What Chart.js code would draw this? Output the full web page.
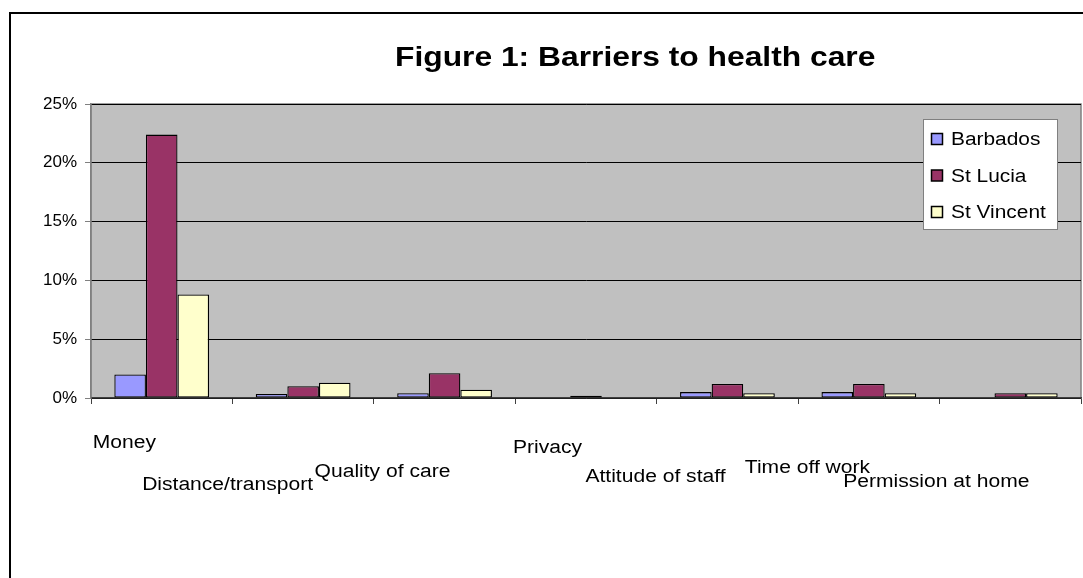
<!DOCTYPE html>
<html>
<head>
<meta charset="utf-8">
<script src="https://cdn.jsdelivr.net/npm/chart.js@4/dist/chart.umd.min.js"></script>
<style>
  html, body { margin: 0; padding: 0; background: #fff; }
  #wrap { width: 1083px; height: 578px; }
</style>
</head>
<body>
<div id="wrap"><canvas id="myBarChart"></canvas></div>
<script>
const categories = ["Money", "Distance/transport", "Quality of care", "Privacy", "Attitude of staff", "Time off work", "Permission at home"];
const seriesNames = ["Barbados", "St Lucia", "St Vincent"];
const barbados = [2.0, 0.35, 0.4, 0, 0.5, 0.5, 0];
const stLucia = [22.4, 1.0, 2.1, 0.2, 1.2, 1.2, 0.4];
const stVincent = [8.8, 1.3, 0.7, 0, 0.4, 0.4, 0.4];
const yTicks = [0, 5, 10, 15, 20, 25];

const colors = ["#9999FF", "#993366", "#FFFFCC"];
// Excel left the category labels scattered: left edge / baseline offsets from each category centre
const labelDx = [-69, -161, -130, -73, -142, -124, -167];
const labelDy = [50, 92, 79, 55, 84, 75, 89];

const FONT = "Arial, 'Liberation Sans', sans-serif";
const STRETCH = 1.17; // text in the original is drawn a bit wide

function wideText(c, txt, x, y, sx) {
    c.save();
    c.translate(x, y);
    c.scale(sx, 1);
    c.fillText(txt, 0, 0);
    c.restore();
}

const excelLook = {
    id: 'excelLook',
    beforeDraw(chart) {
        const c = chart.ctx;
        const a = chart.chartArea;
        c.save();
        c.fillStyle = "#fff";
        c.fillRect(0, 0, chart.width, chart.height);
        // outer frame
        c.strokeStyle = "#000";
        c.lineWidth = 2;
        c.strokeRect(10, 13, chart.width + 20, chart.height + 20);
        // plot area
        c.fillStyle = "#C0C0C0";
        c.fillRect(a.left, a.top, a.right - a.left, a.bottom - a.top);
        c.strokeStyle = "#808080";
        c.lineWidth = 1.5;
        c.strokeRect(a.left, a.top, a.right - a.left, a.bottom - a.top);
        c.restore();
    },
    afterDraw(chart) {
        const c = chart.ctx;
        const a = chart.chartArea;
        const xs = chart.scales.x;
        c.save();
        c.fillStyle = "#000";
        c.textAlign = "left";
        c.textBaseline = "alphabetic";

        // title
        c.font = "bold 28px " + FONT;
        wideText(c, "Figure 1: Barriers to health care", 395, 66, 1.135);

        // category labels
        c.font = "18px " + FONT;
        categories.forEach((lab, i) => {
            wideText(c, lab, xs.getPixelForTick(i) + labelDx[i], a.bottom + labelDy[i], STRETCH);
        });

        // legend box
        const bx = a.right - 158, by = a.top + 15, bw = 134, bh = 110;
        c.fillStyle = "#fff";
        c.fillRect(bx, by, bw, bh);
        c.strokeStyle = "#808080";
        c.lineWidth = 1;
        c.strokeRect(bx + 0.5, by + 0.5, bw, bh);
        chart.data.datasets.forEach((ds, i) => {
            const base = by + 26 + i * 36.5;
            c.fillStyle = ds.backgroundColor;
            c.fillRect(bx + 8.5, base - 11.5, 11, 11);
            c.strokeStyle = "#000";
            c.lineWidth = 1.5;
            c.strokeRect(bx + 8.5, base - 11.5, 11, 11);
            c.fillStyle = "#000";
            wideText(c, ds.label, bx + 28, base, 1.16);
        });
        c.restore();
    }
};

var ctx = document.getElementById("myBarChart").getContext("2d");

new Chart(ctx, {
    type: 'bar',
    data: {
        labels: categories,
        datasets: [
            { label: seriesNames[0], data: barbados, backgroundColor: colors[0] },
            { label: seriesNames[1], data: stLucia, backgroundColor: colors[1] },
            { label: seriesNames[2], data: stVincent, backgroundColor: colors[2] }
        ].map(d => Object.assign(d, {
            borderColor: "#000",
            borderWidth: 1.3,
            borderSkipped: false,
            barPercentage: 1,
            categoryPercentage: 0.67
        }))
    },
    options: {
        responsive: true,
        maintainAspectRatio: false,
        animation: false,
        devicePixelRatio: 1,
        layout: { padding: { top: 104, left: 10, right: 2, bottom: 180 } },
        plugins: {
            legend: { display: false },
            title: { display: false },
            tooltip: { enabled: false }
        },
        scales: {
            x: {
                grid: {
                    offset: true,
                    drawOnChartArea: false,
                    color: "#404040",
                    tickLength: 6
                },
                border: { color: "#404040", width: 1.5 },
                ticks: { display: false },
                afterFit: s => { s.height = 0; }
            },
            y: {
                min: 0,
                max: 25,
                afterBuildTicks: s => { s.ticks = yTicks.map(v => ({ value: v })); },
                grid: { color: "#000", lineWidth: 1, tickLength: 6, tickColor: "#808080" },
                border: { color: "#808080", width: 1.5 },
                ticks: {
                    color: "#000",
                    padding: 8,
                    font: { size: 17, family: FONT },
                    callback: v => v + "%"
                },
                afterFit: s => { s.width = 81; }
            }
        }
    },
    plugins: [excelLook]
});
</script>
</body>
</html>
